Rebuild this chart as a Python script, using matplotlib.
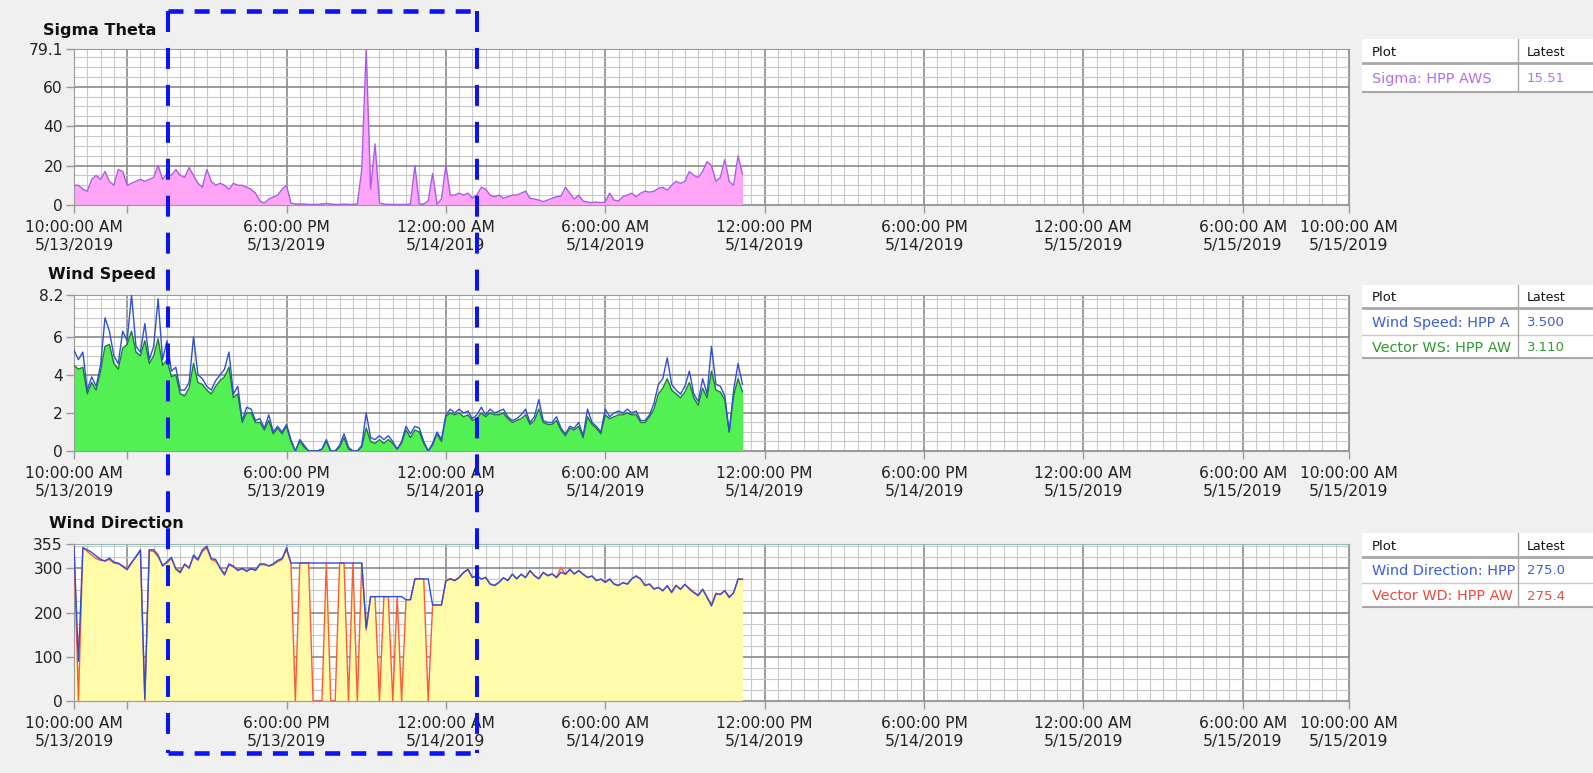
import matplotlib
matplotlib.use('Agg')
import matplotlib.pyplot as plt
import matplotlib.dates as mdates
from matplotlib.ticker import MultipleLocator, FixedLocator
from matplotlib.patches import Rectangle
import pandas as pd
from datetime import datetime, timedelta

plt.rcParams['lines.scale_dashes'] = False
plt.rcParams['font.family'] = ['DejaVu Sans']

W, H, DPI = 1593, 773, 100

# ---------------- data (10-minute samples from 10:00 AM 5/13/2019) ----------------
sigma_theta = [
    10, 10, 8, 7, 13, 15,
    13, 17, 12, 10, 18, 17,
    10, 11, 12, 13, 12, 13,
    14, 20, 13, 16, 15, 18,
    15, 14, 19, 15, 11, 9,
    18, 12, 10, 11, 10, 8,
    11, 10, 10, 9, 8, 6,
    2, 1, 3, 4, 5, 8,
    10, 1, 0.5, 0.5, 0.5, 0.3,
    0.3, 0.3, 0.5, 0.8, 0.5, 0.3,
    0.3, 0.5, 0.3, 0.3, 0.5, 18,
    79.1, 8, 31, 1, 0.5, 0.3,
    0.3, 0.3, 0.3, 0.3, 0.5, 20,
    0.5, 0.5, 2, 16, 0.5, 3,
    20, 5, 5, 6, 5, 6,
    3.4, 5, 9, 8, 5, 4.2,
    5, 3.4, 4.2, 5, 5, 6,
    7, 3.4, 3, 2.5, 1.7, 2.5,
    3.4, 4.2, 4.5, 9, 6, 3,
    5, 2, 1.5, 1.2, 1.5, 1.2,
    1.5, 6, 2.5, 2, 4.2, 5,
    6, 4.2, 6, 7, 6.5, 7,
    8.4, 9, 7.5, 10, 12, 11,
    12, 17, 15, 14, 17, 22,
    20, 12, 14, 23, 12, 10,
    25, 15.51,
]

wind_speed = [
    5.3, 4.8, 5.2, 3.2, 3.9, 3.4,
    4.5, 7.0, 6.3, 5.0, 4.6, 6.3,
    5.8, 8.2, 5.5, 5.2, 6.7, 4.8,
    5.5, 8.0, 4.8, 5.8, 4.2, 4.4,
    3.2, 3.2, 3.6, 6.0, 4.0, 3.8,
    3.4, 3.2, 3.7, 4.0, 4.3, 5.2,
    3.0, 3.4, 1.6, 2.3, 2.2, 1.6,
    1.7, 1.2, 1.9, 1.0, 1.3, 1.0,
    1.4, 0.6, 0.0, 0.6, 0.3, 0.0,
    0.0, 0.0, 0.1, 0.6, 0.0, 0.0,
    0.3, 0.9, 0.2, 0.0, 0.0, 0.3,
    2.0, 0.7, 0.6, 0.8, 0.6, 0.8,
    0.5, 0.1, 0.5, 1.3, 0.9, 1.3,
    1.2, 0.5, 0.0, 0.4, 1.0, 0.6,
    1.9, 2.2, 2.0, 2.2, 2.0, 2.1,
    1.7, 1.9, 2.3, 1.9, 2.2, 2.0,
    2.1, 2.2, 1.8, 1.6, 1.7, 1.9,
    2.2, 1.5, 1.8, 2.7, 1.6, 1.5,
    1.5, 1.8, 1.2, 0.9, 1.3, 1.2,
    1.5, 0.8, 2.2, 1.5, 1.3, 1.0,
    2.2, 1.8, 2.0, 2.1, 2.0, 2.2,
    2.0, 2.1, 1.6, 1.6, 1.9, 2.5,
    3.5, 3.8, 4.9, 3.5, 3.2, 3.0,
    3.4, 4.2, 3.0, 2.6, 3.8, 3.0,
    5.5, 3.5, 3.4, 2.9, 1.0, 3.2,
    4.6, 3.5,
]

vector_ws = [
    4.5, 4.3, 4.4, 3.0, 3.6, 3.2,
    4.2, 5.5, 5.6, 4.6, 4.3, 5.4,
    5.6, 6.3, 5.2, 5.0, 5.8, 4.6,
    5.0, 5.9, 4.5, 4.8, 3.9, 4.0,
    3.0, 2.9, 3.3, 4.6, 3.6, 3.5,
    3.2, 3.0, 3.4, 3.7, 3.9, 4.4,
    2.8, 3.0, 1.5, 2.0, 2.0, 1.5,
    1.5, 1.1, 1.6, 0.9, 1.2, 0.9,
    1.3, 0.5, 0.0, 0.5, 0.2, 0.0,
    0.0, 0.0, 0.1, 0.5, 0.0, 0.0,
    0.2, 0.7, 0.1, 0.0, 0.0, 0.2,
    1.2, 0.5, 0.4, 0.6, 0.4, 0.6,
    0.4, 0.1, 0.4, 1.1, 0.7, 1.1,
    1.0, 0.4, 0.0, 0.3, 0.9, 0.5,
    1.8, 2.0, 1.9, 2.0, 1.8, 1.9,
    1.6, 1.7, 2.0, 1.8, 2.0, 1.9,
    1.9, 2.0, 1.7, 1.5, 1.6, 1.7,
    1.9, 1.4, 1.6, 2.2, 1.5, 1.4,
    1.4, 1.6, 1.1, 0.8, 1.2, 1.1,
    1.3, 0.7, 1.8, 1.4, 1.2, 0.9,
    1.9, 1.7, 1.8, 1.9, 1.9, 2.0,
    1.9, 1.9, 1.5, 1.5, 1.8, 2.2,
    3.0, 3.3, 3.8, 3.2, 3.0, 2.8,
    3.1, 3.6, 2.8, 2.4, 3.3, 2.8,
    4.2, 3.2, 3.1, 2.7, 1.0, 2.9,
    3.8, 3.11,
]

wind_dir = [
    350, 90, 346, 342, 336, 328,
    320, 316, 323, 314, 312, 304,
    297, 312, 327, 342, 5, 342,
    342, 330, 305, 315, 325, 298,
    290, 310, 300, 330, 320, 342,
    350, 322, 320, 300, 285, 310,
    305, 295, 300, 293, 300, 295,
    310, 310, 305, 310, 318, 322,
    346, 312, 312, 312, 312, 312,
    312, 312, 312, 312, 312, 312,
    312, 312, 312, 312, 312, 312,
    165, 236, 236, 236, 236, 236,
    236, 236, 236, 229, 229, 276,
    276, 276, 276, 217, 217, 217,
    272, 276, 272, 279, 291, 298,
    279, 283, 276, 279, 264, 261,
    268, 279, 272, 287, 276, 287,
    279, 295, 283, 276, 291, 283,
    287, 279, 291, 287, 298, 287,
    295, 287, 279, 283, 272, 276,
    268, 276, 264, 261, 268, 264,
    276, 283, 276, 261, 264, 253,
    257, 249, 261, 245, 261, 253,
    264, 253, 245, 238, 253, 234,
    215, 242, 242, 249, 234, 245,
    276, 275.0,
]

vector_wd = [
    352, 0, 348, 338, 330, 322,
    318, 318, 320, 312, 310, 306,
    300, 314, 325, 340, 0, 340,
    338, 326, 308, 312, 322, 300,
    293, 308, 302, 326, 318, 338,
    346, 320, 316, 302, 288, 308,
    303, 297, 298, 295, 298, 297,
    308, 308, 306, 308, 315, 320,
    342, 312, 0, 312, 312, 312,
    0, 0, 0, 312, 0, 0,
    312, 312, 0, 312, 0, 312,
    160, 236, 236, 0, 236, 236,
    0, 236, 0, 229, 229, 276,
    276, 276, 0, 217, 217, 217,
    272, 277, 273, 280, 290, 297,
    280, 284, 275, 280, 265, 262,
    269, 278, 273, 286, 277, 286,
    280, 294, 284, 277, 290, 284,
    288, 280, 302, 286, 297, 288,
    294, 286, 280, 282, 273, 275,
    269, 275, 265, 262, 267, 265,
    277, 282, 275, 262, 265, 254,
    256, 250, 260, 247, 262, 252,
    263, 255, 246, 240, 252, 236,
    218, 244, 240, 250, 236, 244,
    275, 275.4,
]

t_start = datetime(2019, 5, 13, 10, 0)
t_end = datetime(2019, 5, 15, 10, 0)
times = [t_start + timedelta(minutes=10 * i) for i in range(len(sigma_theta))]

tick_hours = [0, 2, 8, 14, 20, 26, 32, 38, 44, 48]
tick_labels = ['10:00:00 AM\n5/13/2019', '', '6:00:00 PM\n5/13/2019',
               '12:00:00 AM\n5/14/2019', '6:00:00 AM\n5/14/2019',
               '12:00:00 PM\n5/14/2019', '6:00:00 PM\n5/14/2019',
               '12:00:00 AM\n5/15/2019', '6:00:00 AM\n5/15/2019',
               '10:00:00 AM\n5/15/2019']

# legend cells as they are visible in the (column-clipped) table
legend_sigma = [('Sigma: HPP AWS', '15.51', '#b46ef0')]
legend_ws = [('Wind Speed: HPP A', '3.500', '#3a5cd8'),
             ('Vector WS: HPP AW', '3.110', '#2f9a2f')]
legend_wd = [('Wind Direction: HPP', '275.0', '#3a5cd8'),
             ('Vector WD: HPP AW', '275.4', '#f04a3a')]

# ---------------- figure ----------------
fig = plt.figure(figsize=(W / DPI, H / DPI), dpi=DPI, facecolor='#f0f0f0')


def px_rect(x0, y0, x1, y1):
    return [x0 / W, 1 - y1 / H, (x1 - x0) / W, (y1 - y0) / H]


tnum = mdates.date2num(times)
major_x = [mdates.date2num(t_start + timedelta(hours=h)) for h in tick_hours]
minor_x = [mdates.date2num(t_start + timedelta(minutes=30 * k)) for k in range(97)]


def make_panel(top, bottom, ymax, yticks, ylabels, yminor):
    ax = fig.add_axes(px_rect(74, top, 1349, bottom))
    ax.set_facecolor('white')
    ax.set_xlim(mdates.date2num(t_start), mdates.date2num(t_end))
    ax.set_ylim(0, ymax)
    ax.set_yticks(yticks)
    ax.set_yticklabels(ylabels)
    ax.yaxis.set_minor_locator(MultipleLocator(yminor))
    ax.set_xticks(major_x)
    ax.set_xticklabels(tick_labels, linespacing=1.2)
    ax.xaxis.set_minor_locator(FixedLocator(minor_x))
    ax.grid(which='major', color='#8a8a8a', lw=1.2)
    ax.grid(which='minor', color='#c8c8c8', lw=0.8)
    ax.tick_params(which='minor', length=0)
    ax.tick_params(which='major', length=6, width=1, color='#9a9a9a',
                   labelsize=11.2, labelcolor='#222222')
    ax.tick_params(axis='x', pad=5)
    ax.tick_params(axis='y', pad=2)
    for s in ax.spines.values():
        s.set_color('#9a9a9a')
    ax.set_axisbelow(True)
    return ax


ax1 = make_panel(49, 205, 79.1, [0, 20, 40, 60, 79.1], ['0', '20', '40', '60', '79.1'], 5)
ax1.fill_between(tnum, 0, sigma_theta, color='#ffa4f7', lw=0, zorder=2)
ax1.plot(tnum, sigma_theta, color='#a65ee6', lw=1.0, zorder=3)

ax2 = make_panel(295, 451, 8.2, [0, 2, 4, 6, 8.2], ['0', '2', '4', '6', '8.2'], 0.5)
ax2.fill_between(tnum, 0, vector_ws, color='#52f052', lw=0, zorder=2)
ax2.plot(tnum, vector_ws, color='#1f7a34', lw=1.0, zorder=3)
ax2.plot(tnum, wind_speed, color='#2f4fd8', lw=1.0, zorder=4)

ax3 = make_panel(544, 701, 355, [0, 100, 200, 300, 355], ['0', '100', '200', '300', '355'], 25)
ax3.fill_between(tnum, 0, vector_wd, color='#fffba8', lw=0, zorder=2)
ax3.plot(tnum, vector_wd, color='#ff5a32', lw=1.0, zorder=3)
ax3.plot(tnum, wind_dir, color='#2d4ed6', lw=1.0, zorder=4)
ax3.spines['top'].set_color('#8fb8b8')

# titles
for txt, x, y in [('Sigma Theta', 43, 30), ('Wind Speed', 48, 274), ('Wind Direction', 49, 524)]:
    fig.text(x / W, 1 - y / H, txt, fontsize=11.5, fontweight='bold', color='#111111',
             ha='left', va='center')


# legend tables
def draw_table(top, hsep, row_bottoms, entries):
    x0, xs, x1 = 1362, 1518, W
    bottom = row_bottoms[-1]
    tb = fig.add_axes(px_rect(x0, top, x1, bottom + 2))
    tb.set_xlim(x0, x1)
    tb.set_ylim(bottom + 2, top)
    tb.axis('off')
    tb.add_patch(Rectangle((x0, top), x1 - x0, bottom - top, facecolor='white',
                           edgecolor='none'))
    tb.plot([x0, x1], [hsep, hsep], color='#a8a8a8', lw=2.0)
    for rb in row_bottoms[:-1]:
        tb.plot([x0, x1], [rb, rb], color='#c8c8c8', lw=1.0)
    tb.plot([x0, x1], [bottom, bottom], color='#a8a8a8', lw=1.5)
    tb.plot([xs, xs], [top, bottom], color='#a8a8a8', lw=1.0)
    tb.text(1372, (top + hsep) / 2 + 1, 'Plot', fontsize=9.5, color='#111111',
            ha='left', va='center')
    tb.text(1527, (top + hsep) / 2 + 1, 'Latest', fontsize=9, color='#111111',
            ha='left', va='center')
    c1 = fig.add_axes(px_rect(x0, top, xs - 1, bottom))
    c1.set_xlim(x0, xs - 1)
    c1.set_ylim(bottom, top)
    c1.axis('off')
    prev = hsep
    for (name, val, col), rb in zip(entries, row_bottoms):
        yc = (prev + rb) / 2 + 1
        t = c1.text(1372, yc, name, fontsize=10.4, color=col, ha='left', va='center')
        t.set_clip_box(c1.bbox)
        t.set_clip_on(True)
        tb.text(1527, yc, val, fontsize=9.5, color=col, ha='left', va='center')
        prev = rb


draw_table(39, 63, [92], legend_sigma)
draw_table(285, 308, [335, 358], legend_ws)
draw_table(533, 557, [583, 607], legend_wd)

# dashed highlight rectangle overlay
ov = fig.add_axes([0, 0, 1, 1])
ov.set_xlim(0, W)
ov.set_ylim(H, 0)
ov.axis('off')
ov.patch.set_alpha(0)
L, R, T, B = 168, 477, 11, 753
blue = '#0a14f5'
ov.plot([L, L], [T, B], color=blue, lw=2.9, linestyle=(0, (15.1, 11.5)), dash_capstyle='butt')
ov.plot([R, R], [T, B], color=blue, lw=2.9, linestyle=(0, (15.1, 11.5)), dash_capstyle='butt')
ov.plot([L, R], [T, T], color=blue, lw=3.3, linestyle=(0, (10.8, 8.0)), dash_capstyle='butt')
ov.plot([L, R], [B, B], color=blue, lw=3.3, linestyle=(0, (10.8, 8.0)), dash_capstyle='butt')

fig.savefig('out.png', dpi=DPI, facecolor=fig.get_facecolor())
